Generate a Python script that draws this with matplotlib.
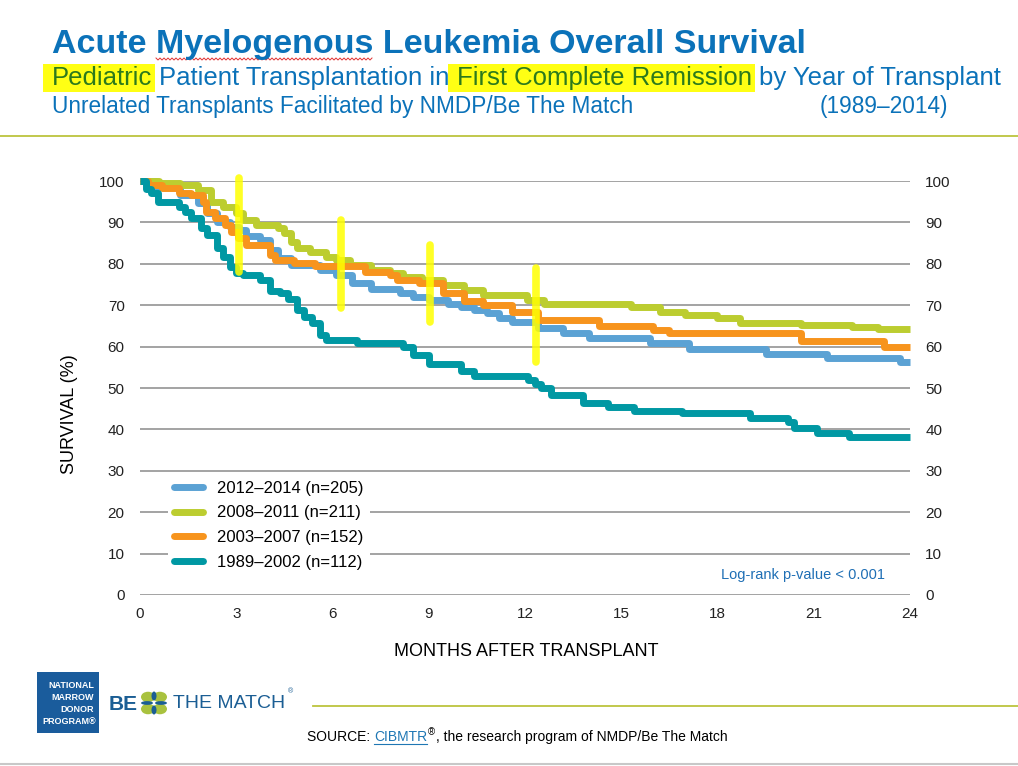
import numpy as np
import matplotlib
matplotlib.use("Agg")
import matplotlib.pyplot as plt
from matplotlib.patches import Rectangle, Circle, Ellipse
from matplotlib.lines import Line2D

plt.rcParams['font.family'] = ['Liberation Sans', 'DejaVu Sans']

# survival curves, (months, survival %) step breakpoints
t_1214 = [0, 0.5, 1.25, 1.8, 2.1, 2.4, 2.8, 3.1, 3.3, 3.75, 4.05, 4.3, 4.7, 5.6, 6.1, 6.6, 7.2,
          8.1, 8.5, 9.0, 9.6, 10.0, 10.4, 10.8, 11.2, 11.6, 12.4, 13.2, 14.0, 15.9, 17.1, 19.5,
          21.4, 23.7, 24]
s_1214 = [100, 98.5, 96.6, 94.7, 92.3, 90.2, 89, 88.2, 86.6, 85.7, 83.3, 81.4, 79.7, 78.5, 77.3,
          75.3, 73.8, 72.9, 72, 71.3, 70.4, 69.6, 68.8, 68, 66.8, 66, 64.5, 63.4, 62, 60.8, 59.3,
          58.3, 57.3, 56.4, 56.4]

t_0811 = [0, 0.6, 1.25, 1.8, 2.2, 2.6, 3.0, 3.2, 3.6, 4.3, 4.5, 4.7, 4.9, 5.3, 5.8, 6.1, 6.55,
          7.2, 7.8, 8.2, 8.8, 9.45, 10.1, 10.7, 12.05, 12.6, 15.3, 16.2, 17.0, 18.0, 18.7, 20.6,
          22.2, 23.0, 24]
s_0811 = [100, 99.5, 99, 97.8, 95, 93.8, 92.2, 90.6, 89.4, 88.6, 87.4, 85.3, 83.7, 82.9, 81.7,
          80.9, 79.7, 78.5, 77.7, 76.9, 76.1, 74.9, 73.7, 72.5, 71.3, 70.4, 69.5, 68.4, 67.6,
          66.8, 65.8, 65.2, 64.8, 64.3, 64.3]

t_0307 = [0, 0.25, 0.7, 1.2, 1.6, 1.95, 2.05, 2.35, 2.65, 2.85, 3.05, 3.3, 4.05, 4.2, 4.8, 5.45,
          7.0, 7.8, 8.0, 8.7, 9.45, 10.1, 10.7, 11.6, 12.4, 14.3, 16.0, 16.5, 20.6, 23.2, 24]
s_0307 = [100, 99, 98.3, 97, 96.6, 95, 92.6, 91, 89.4, 87.8, 86.2, 84.5, 82.1, 80.9, 80.1, 79.5,
          78.1, 77.3, 76.1, 75.3, 72.9, 70.9, 70, 68.4, 66.4, 65, 64, 63.2, 61.4, 60, 60]

t_8902 = [0, 0.2, 0.35, 0.55, 1.2, 1.4, 1.6, 1.9, 2.1, 2.4, 2.6, 2.8, 3.0, 3.2, 3.75, 4.05, 4.35,
          4.6, 4.9, 5.1, 5.35, 5.6, 5.8, 6.75, 8.2, 8.5, 9.0, 10.0, 10.4, 12.1, 12.3, 12.5, 12.8,
          13.8, 14.6, 15.4, 16.9, 19.0, 20.2, 20.4, 21.1, 22.1, 24]
s_8902 = [100, 98, 97, 95, 93.8, 92.6, 91, 88.6, 87, 83.8, 81.6, 79.3, 77.7, 77.3, 76, 73.5, 72.9,
          71.5, 68.8, 67.2, 65.7, 62.8, 61.6, 60.8, 59.8, 58, 55.8, 54, 52.8, 51.9, 51, 50, 48.3,
          46.4, 45.5, 44.4, 43.9, 42.8, 41.9, 40.3, 39.2, 38.2, 38.2]

labels = ['2012\u20132014 (n=205)', '2008\u20132011 (n=211)',
          '2003\u20132007 (n=152)', '1989\u20132002 (n=112)']
colors = ['#5BA2D4', '#BCCD30', '#F7941D', '#0098A3']

x_ticks = [0, 3, 6, 9, 12, 15, 18, 21, 24]
y_ticks = [0, 10, 20, 30, 40, 50, 60, 70, 80, 90, 100]

# hand-drawn highlighter strokes on the chart: (month, low %, high %)
marks = [(3.1, 78, 100.7), (6.25, 69.3, 90.6), (9.05, 66, 84.5), (12.35, 56.3, 79)]

W, H = 1018, 766
fig = plt.figure(figsize=(W / 100, H / 100), dpi=100)
renderer = fig.canvas.get_renderer()


def px(x, y):
    return x / W, 1 - y / H


def text_w(s, fs, **kw):
    tt = fig.text(0, 0, s, fontsize=fs, **kw)
    w = tt.get_window_extent(renderer).width
    tt.remove()
    return w


def offset(s, fs, **kw):
    # advance width of s, trailing spaces included
    return text_w(s + 'x', fs, **kw) - text_w('x', fs, **kw)


blue = '#0B72B9'
ax = fig.add_axes([140 / W, 1 - 595 / H, 770 / W, 414 / H])
series = [(t_1214, s_1214), (t_0811, s_0811), (t_0307, s_0307), (t_8902, s_8902)]
for (t, s), c, lab in zip(series, colors, labels):
    ax.plot(t, s, drawstyle='steps-post', color=c, lw=5, label=lab, clip_on=False,
            solid_capstyle='butt', zorder=3)

for m, lo, hi in marks:
    ax.plot([m, m], [lo, hi], color='#FFFF00', lw=5.5, alpha=0.85, clip_on=False, zorder=4,
            solid_capstyle='round')

ax.set_xlim(0, 24)
ax.set_ylim(0, 100)
ax.set_xticks(x_ticks)
ax.set_yticks(y_ticks)
ax.grid(axis='y', color='#8A8A8A', lw=1.1)
ax.set_axisbelow(True)
for sp in ax.spines.values():
    sp.set_visible(False)
ax.tick_params(length=0, labelsize=11, labelcolor='#222222')
ax.tick_params(axis='x', pad=9)
ax.tick_params(axis='y', pad=11, labelright=True)

leg = ax.legend(loc='upper left', bbox_to_anchor=(0.025, 0.312), frameon=True, fontsize=12,
                handlelength=1.75, handletextpad=0.8, labelspacing=0.58, borderpad=0.4)
leg.get_frame().set_facecolor('white')
leg.get_frame().set_edgecolor('none')
leg.get_frame().set_alpha(1)
for h in leg.get_lines():
    h.set_solid_capstyle('round')
    h.set_linewidth(5)

ax.text(0.9675, 0.048, 'Log-rank p-value < 0.001', transform=ax.transAxes, ha='right',
        va='center', fontsize=10.5, color='#1F6FB5')

fig.text(*px(70, 414), 'SURVIVAL (%)', rotation=90, ha='center', va='center', fontsize=13)
fig.text(*px(526, 652), 'MONTHS AFTER TRANSPLANT', ha='center', va='center', fontsize=13)

# header
title = 'Acute Myelogenous Leukemia Overall Survival'
title_fs = 24.5
fig.text(*px(52, 53), title, fontsize=title_fs, fontweight='bold', color=blue, va='baseline')
# spell-check squiggle under "Myelogenous"
sq0 = 52 + offset('Acute ', title_fs, fontweight='bold')
sq1 = sq0 + text_w('Myelogenous', title_fs, fontweight='bold')
sqx = np.arange(sq0, sq1, 2.0)
sqy = 59 + np.where(np.arange(len(sqx)) % 2 == 0, -1.0, 1.0)
fig.add_artist(Line2D(sqx / W, 1 - sqy / H, color='#E03030', lw=0.7))

sub_fs = 18.5
sub_pieces = [('Pediatric', True), ('Patient Transplantation in ', False),
              ('First Complete Remission', True), ('by Year of Transplant', False)]
sx = 52
for k, (piece, hl) in enumerate(sub_pieces):
    if hl:
        w = text_w(piece, sub_fs)
        fig.patches.append(Rectangle(px(sx - 9, 92), (w + 12) / W, 28 / H,
                                     transform=fig.transFigure, facecolor='#FFFF00',
                                     edgecolor='none', alpha=0.92, zorder=1))
    fig.text(*px(sx, 85), piece, fontsize=sub_fs, color='#2C7A1C' if hl else blue,
             va='baseline', zorder=3)
    sx += offset(piece + (' ' if hl else ''), sub_fs)

fig.text(*px(52, 113), 'Unrelated Transplants Facilitated by NMDP/Be The Match', fontsize=16.3,
         color=blue, va='baseline')
fig.text(*px(820, 113), '(1989\u20132014)', fontsize=16.3, color=blue, va='baseline')

fig.add_artist(Line2D([0, 1], [1 - 136 / H] * 2, color='#BCC43E', lw=1.3))
fig.add_artist(Line2D([313 / W, 1], [1 - 706 / H] * 2, color='#BCC43E', lw=1.3))
fig.add_artist(Line2D([0, 1], [1 - 764 / H] * 2, color='#C8C8C8', lw=1.5))

# logo
fig.patches.append(Rectangle(px(37, 733), 62 / W, 61 / H, transform=fig.transFigure,
                             facecolor='#1A5C9C', edgecolor='none'))
for k, wd in enumerate(['NATIONAL', 'MARROW', 'DONOR', 'PROGRAM\u00ae']):
    fig.text(*px(94 if k < 3 else 96, 686 + 12 * k), wd, fontsize=6.5, fontweight='bold',
             color='white', ha='right', va='center')
fig.text(*px(109, 704), 'BE', fontsize=15, fontweight='bold', color='#1B5E94', va='center')
cx, cy = 154, 703
for dx, dy in [(-6, -6), (6, -6), (-6, 6), (6, 6)]:
    fig.patches.append(Circle(px(cx + dx, cy + dy), 7 / W, transform=fig.transFigure,
                              facecolor='#A9C23F', edgecolor='none'))
for dx, dy, ang in [(0, -7, 0), (0, 7, 0), (-7, 0, 90), (7, 0, 90)]:
    fig.patches.append(Ellipse(px(cx + dx, cy + dy), 5 / W, 9 / H, angle=ang,
                               transform=fig.transFigure, facecolor='#1B5E94', edgecolor='none'))
fig.text(*px(173, 704), 'THE MATCH', fontsize=14, color='#1B5E94', va='center')
fig.text(*px(288, 692), '\u00ae', fontsize=5, color='#1B5E94', va='center')

# source line
src_fs = 10
sx = 307
fig.text(*px(sx, 737), 'SOURCE: ', fontsize=src_fs, va='center')
sx += offset('SOURCE: ', src_fs)
fig.text(*px(sx, 737), 'CIBMTR', fontsize=src_fs, va='center', color='#1F77B4')
cw = text_w('CIBMTR', src_fs)
fig.add_artist(Line2D([sx / W, (sx + cw) / W], [1 - 744 / H] * 2, color='#1F77B4', lw=0.8))
sx += cw + 1
fig.text(*px(sx, 732), '\u00ae', fontsize=7, va='center')
sx += text_w('\u00ae', 7) + 1
fig.text(*px(sx, 737), ', the research program of NMDP/Be The Match', fontsize=src_fs, va='center')

fig.savefig('out.png', dpi=100)
